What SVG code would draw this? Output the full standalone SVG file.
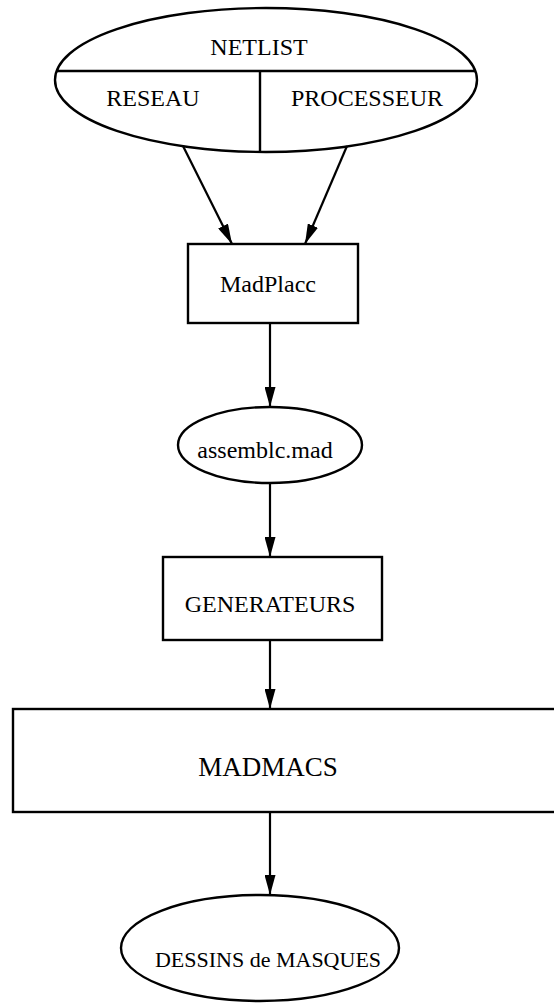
<svg xmlns="http://www.w3.org/2000/svg" width="554" height="1005" viewBox="0 0 554 1005">
<defs>
<style>
.s{fill:none;stroke:#000;stroke-width:2.4}
.t{font-family:"Liberation Serif","Times New Roman",serif;font-size:24px;fill:#000;text-anchor:middle}
.c{stroke:#000;stroke-width:2.2;fill:none}
</style>
<marker id="ah" markerUnits="userSpaceOnUse" markerWidth="20" markerHeight="11" refX="20" refY="5.5" orient="auto" viewBox="0 0 20 11">
<path d="M0,0 L20,5.5 L0,11 Z" fill="#000"/>
</marker>
</defs>
<rect width="554" height="1005" fill="#fff"/>
<g id="netlist">
<ellipse class="s" cx="266" cy="80" rx="211" ry="72"/>
<line class="s" x1="56" y1="71" x2="476" y2="71"/>
<line class="s" x1="260" y1="71" x2="260" y2="152"/>
<text class="t" x="259" y="55">NETLIST</text>
<text class="t" x="153" y="106">RESEAU</text>
<text class="t" x="367" y="106">PROCESSEUR</text>
</g>
<g id="madplace">
<rect class="s" x="188" y="244" width="170" height="79"/>
<text class="t" x="268" y="292">MadPlacc</text>
</g>
<g id="assemble">
<ellipse class="s" cx="270" cy="445" rx="92" ry="38"/>
<text class="t" x="265" y="458">assemblc.mad</text>
</g>
<g id="generateurs">
<rect class="s" x="163" y="557" width="219" height="83"/>
<text class="t" x="270" y="612">GENERATEURS</text>
</g>
<g id="madmacs">
<rect class="s" x="13" y="709" width="548" height="103"/>
<text class="t" x="268" y="776" style="font-size:27px">MADMACS</text>
</g>
<g id="dessins">
<ellipse class="s" cx="260" cy="948" rx="139" ry="53"/>
<text class="t" x="268" y="967" style="font-size:22px">DESSINS de MASQUES</text>
</g>
<g id="connectors">
<line class="c" x1="183" y1="146" x2="232" y2="244" marker-end="url(#ah)"/>
<line class="c" x1="347" y1="146" x2="305" y2="244" marker-end="url(#ah)"/>
<line class="c" x1="270" y1="323" x2="270" y2="407" marker-end="url(#ah)"/>
<line class="c" x1="270" y1="483" x2="270" y2="557" marker-end="url(#ah)"/>
<line class="c" x1="270" y1="640" x2="270" y2="709" marker-end="url(#ah)"/>
<line class="c" x1="270" y1="812" x2="270" y2="895" marker-end="url(#ah)"/>
</g>
</svg>
